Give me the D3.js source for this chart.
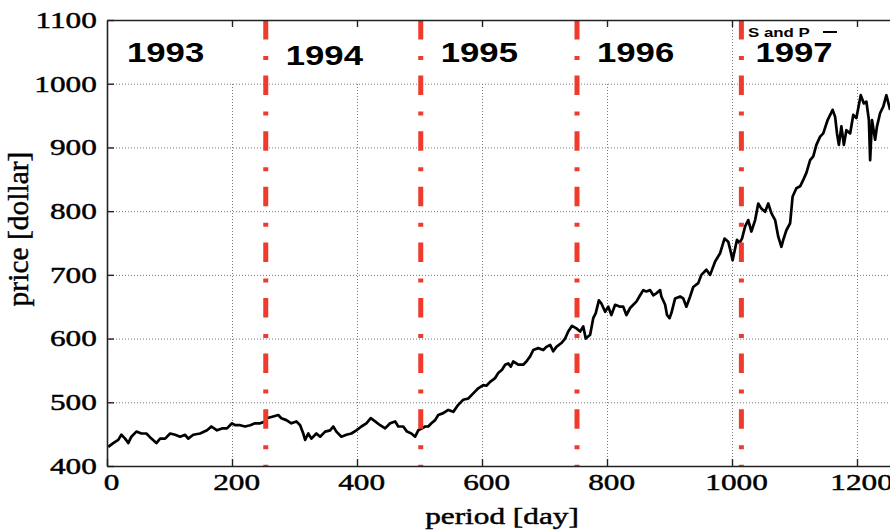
<!DOCTYPE html>
<html>
<head>
<meta charset="utf-8">
<script src="https://cdn.jsdelivr.net/npm/d3@7"></script>
<style>
  html, body { margin: 0; padding: 0; background: #fff; }
  svg { display: block; }
</style>
</head>
<body>
<svg id="chart" width="890" height="530"></svg>
<script>
// S&P 500 daily close, trading-day index vs price (1993-1997)
const days = [
  2, 10, 18, 23, 29, 34, 39, 47, 55, 63, 71, 79, 85, 93, 101, 109, 117, 125, 130, 138,
  149, 160, 167, 176, 184, 192, 200, 205, 213, 221, 229, 237, 245, 253,
  255, 263, 274, 279, 287, 295, 303, 309, 314, 317, 322, 327, 335, 341, 349, 357,
  362, 367, 375, 383, 391, 399, 407, 415, 422, 429, 437, 445, 453, 461, 466, 474,
  480, 487, 493, 498, 504, 509, 514, 519, 525,
  530, 538, 546, 554, 562, 570, 578, 586, 594, 602, 607, 613, 621, 626, 632, 637,
  642, 646, 650, 658, 666, 671, 677, 682, 690, 698, 703, 709, 714, 719, 727, 733,
  738, 744, 751, 757, 762, 766, 773,
  778, 782, 787, 791, 797, 802, 807, 813, 821, 826, 831, 837, 842, 847, 853, 858,
  863, 869, 874, 879, 885, 887, 893, 896, 900, 903, 909, 917, 922, 927, 933, 938,
  946, 951, 959, 965, 973, 981, 988, 994, 998, 1001, 1008, 1012,
  1016, 1021, 1026, 1031, 1037, 1042, 1047, 1053, 1058, 1063, 1069, 1074, 1079, 1082,
  1087, 1093, 1097, 1103, 1109, 1114, 1119, 1125, 1130, 1135, 1141, 1146, 1153, 1161,
  1165, 1168, 1171, 1175, 1179, 1183, 1189, 1194, 1199, 1206, 1211, 1215, 1219, 1221,
  1224, 1229, 1232, 1237, 1242, 1247, 1253
];
const prices = [
  430, 436, 441, 449, 443, 436, 446, 454, 451, 451, 443, 436, 443, 443, 451, 449, 446, 449, 443, 449,
  451, 456, 462, 456, 459, 459, 467, 464, 464, 462, 464, 467, 467, 470,
  475, 477, 480, 475, 472, 467, 470, 464, 451, 441, 451, 443, 451, 446, 454, 456,
  462, 454, 446, 449, 451, 456, 462, 467, 475, 470, 464, 459, 467, 470, 462, 462,
  454, 451, 446, 456, 459, 462, 462, 467, 472,
  480, 483, 488, 485, 496, 504, 506, 514, 522, 527, 526, 532, 538, 546, 551, 559,
  561, 556, 564, 559, 559, 564, 572, 582, 585, 582, 587, 590, 580, 587, 593, 600,
  611, 620, 616, 611, 619, 600, 606,
  632, 640, 660, 655, 642, 650, 637, 653, 650, 650, 637, 648, 653, 658, 668, 676,
  674, 676, 668, 671, 676, 666, 653, 637, 632, 640, 663, 666, 663, 650, 666, 681,
  687, 700, 708, 700, 721, 734, 757, 752, 736, 723, 755, 750,
  757, 776, 786, 768, 786, 812, 804, 799, 812, 797, 786, 760, 744, 755,
  770, 781, 823, 836, 839, 849, 860, 880, 886, 904, 917, 922, 943, 959,
  948, 922, 904, 933, 904, 927, 922, 951, 946, 982, 969, 972, 943, 880,
  943, 912, 933, 954, 964, 982, 959
];
// first trading day of each calendar year
const yearStarts = [0, 254, 502, 752, 1015];
const yearLabels = ["1993", "1994", "1995", "1996", "1997"];
const xTicks = [0, 200, 400, 600, 800, 1000, 1200];
const yTicks = [400, 500, 600, 700, 800, 900, 1000, 1100];
const seriesName = "S and P";
const xTitle = "period [day]";
const yTitle = "price [dollar]";

const series = days.map((d, i) => ({ day: d, price: prices[i] }));

const svg = d3.select("#chart");
const serif = "'Liberation Serif', 'Times New Roman', serif";
const sans = "'Liberation Sans', Arial, sans-serif";
const SX_SERIF = 1.36;   // wide set of the tick/axis lettering
const SX_SANS = 1.24;

const x = d3.scaleLinear().domain([0, 1300]).range([107, 107 + 1300 * 0.625]);
const y = d3.scaleLinear().domain([400, 1100]).range([466, 20]);

const dotted = g => g.selectAll("line")
  .attr("stroke", "#777").attr("stroke-width", 1).attr("stroke-dasharray", "1,2");

// dotted grid: verticals stop under the label band, except day 1000
svg.append("g")
  .attr("transform", `translate(0,${y(400)})`)
  .call(d3.axisBottom(x).tickValues(xTicks.slice(1)).tickSize(0).tickFormat(""))
  .call(g => g.select(".domain").remove())
  .call(g => g.selectAll(".tick line")
    .attr("y2", d => -(y(400) - (d === 1000 ? y(1100) : y(1000)))))
  .call(dotted);
svg.append("g")
  .attr("transform", `translate(${x(0)},0)`)
  .call(d3.axisLeft(y).tickValues(yTicks.slice(1, -1)).tickSize(-(x(1300) - x(0))).tickFormat(""))
  .call(g => g.select(".domain").remove())
  .call(dotted);

// price line
svg.append("path")
  .datum(series)
  .attr("fill", "none")
  .attr("stroke", "#000")
  .attr("stroke-width", 2.7)
  .attr("stroke-linejoin", "round")
  .attr("d", d3.line().x(d => x(d.day)).y(d => y(d.price)));

// year boundaries
svg.append("g").selectAll("line")
  .data(yearStarts.slice(1))
  .join("line")
  .attr("x1", d => x(d)).attr("x2", d => x(d))
  .attr("y1", y(1100)).attr("y2", y(400))
  .attr("stroke", "#ef3b2c")
  .attr("stroke-width", 5)
  .attr("stroke-dasharray", "19.5,16.5,4,15.6");

// axes
const styleAxis = g => {
  g.select(".domain").attr("stroke", "#222").attr("stroke-width", 1.6);
  g.selectAll(".tick line").attr("stroke", "#222").attr("stroke-width", 1.4);
};
const tickText = g => g.selectAll("text")
  .attr("font-family", serif).attr("font-size", 23).attr("fill", "#000")
  .attr("stroke", "#000").attr("stroke-width", 0.45)
  .attr("transform", `scale(${SX_SERIF},1)`);
svg.append("g")
  .attr("transform", `translate(${x(0)},0)`)
  .call(d3.axisLeft(y).tickValues(yTicks).tickFormat(d3.format("d"))
    .tickSizeInner(-7).tickSizeOuter(0).tickPadding(7.5))
  .call(styleAxis)
  .call(tickText);
svg.append("g")
  .attr("transform", `translate(0,${y(400)})`)
  .call(d3.axisBottom(x).tickValues(xTicks).tickFormat(d3.format("d"))
    .tickSizeInner(-7).tickSizeOuter(0).tickPadding(8))
  .call(styleAxis)
  .call(tickText)
  .call(g => g.selectAll("text").attr("x", 3));
svg.append("g")
  .attr("transform", `translate(0,${y(1100)})`)
  .call(d3.axisTop(x).tickValues(xTicks.slice(1)).tickSizeInner(-7).tickSizeOuter(0).tickFormat(""))
  .call(styleAxis);

// year labels
const labels = svg.append("g");
yearLabels.forEach((t, i) => {
  const lx = x(yearStarts[i]) + (i === 4 ? 14 : 20);
  const ly = 62 + (i === 1 ? 3 : 0);
  labels.append("text")
    .attr("transform", `translate(${lx},${ly}) scale(${SX_SANS},1)`)
    .attr("font-family", sans).attr("font-weight", "bold").attr("font-size", 28)
    .attr("fill", "#000")
    .text(t);
});

// key
svg.append("text")
  .attr("transform", `translate(748,36.5) scale(1.25,1)`)
  .attr("font-family", sans).attr("font-weight", "bold").attr("font-size", 13.5)
  .text(seriesName);
svg.append("line")
  .attr("x1", 823).attr("x2", 837).attr("y1", 32).attr("y2", 32)
  .attr("stroke", "#000").attr("stroke-width", 2);

// axis titles
svg.append("text")
  .attr("transform", `translate(502,524) scale(${SX_SERIF},1)`)
  .attr("text-anchor", "middle")
  .attr("font-family", serif).attr("font-size", 23)
  .attr("stroke", "#000").attr("stroke-width", 0.45)
  .text(xTitle);
svg.append("text")
  .attr("transform", `translate(28,229) rotate(-90)`)
  .attr("text-anchor", "middle")
  .attr("font-family", serif).attr("font-size", 29.5)
  .attr("stroke", "#000").attr("stroke-width", 0.45)
  .text(yTitle);
</script>
</body>
</html>
